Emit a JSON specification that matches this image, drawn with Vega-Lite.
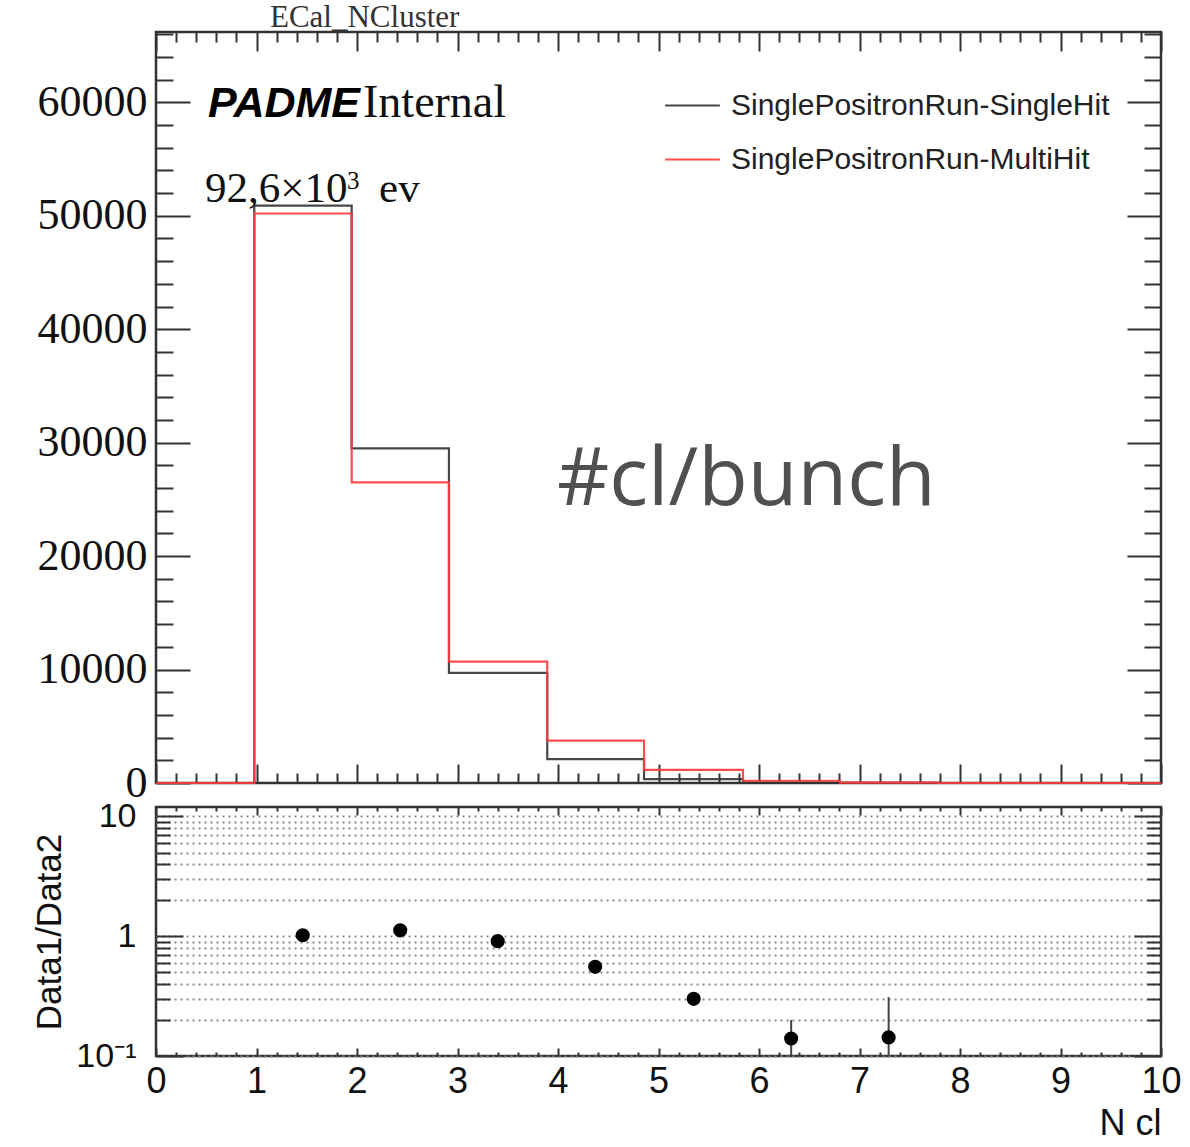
{
  "$schema": "https://vega.github.io/schema/vega-lite/v6.json",
  "padding": {"left": 31, "top": 0, "right": 5, "bottom": 0},
  "background": "white",
  "spacing": 24,
  "bounds": "flush",
  "datasets": {
    "hist": [
      {"series": "SinglePositronRun-SingleHit", "x": 0, "count": 0},
      {"series": "SinglePositronRun-SingleHit", "x": 0.978, "count": 50900},
      {"series": "SinglePositronRun-SingleHit", "x": 1.947, "count": 29500},
      {"series": "SinglePositronRun-SingleHit", "x": 2.915, "count": 9700},
      {"series": "SinglePositronRun-SingleHit", "x": 3.893, "count": 2100},
      {"series": "SinglePositronRun-SingleHit", "x": 4.856, "count": 350},
      {"series": "SinglePositronRun-SingleHit", "x": 5.841, "count": 28},
      {"series": "SinglePositronRun-SingleHit", "x": 6.806, "count": 5},
      {"series": "SinglePositronRun-SingleHit", "x": 7.78, "count": 0},
      {"series": "SinglePositronRun-SingleHit", "x": 10, "count": 0},
      {"series": "SinglePositronRun-MultiHit", "x": 0, "count": 0},
      {"series": "SinglePositronRun-MultiHit", "x": 0.978, "count": 50200},
      {"series": "SinglePositronRun-MultiHit", "x": 1.947, "count": 26500},
      {"series": "SinglePositronRun-MultiHit", "x": 2.915, "count": 10700},
      {"series": "SinglePositronRun-MultiHit", "x": 3.893, "count": 3740},
      {"series": "SinglePositronRun-MultiHit", "x": 4.856, "count": 1150},
      {"series": "SinglePositronRun-MultiHit", "x": 5.841, "count": 200},
      {"series": "SinglePositronRun-MultiHit", "x": 6.806, "count": 35},
      {"series": "SinglePositronRun-MultiHit", "x": 7.78, "count": 0},
      {"series": "SinglePositronRun-MultiHit", "x": 10, "count": 0}
    ],
    "ratio": [
      {"x": 1.46, "r": 1.02, "lo": 1.0, "hi": 1.04},
      {"x": 2.43, "r": 1.12, "lo": 1.1, "hi": 1.14},
      {"x": 3.4, "r": 0.91, "lo": 0.89, "hi": 0.93},
      {"x": 4.37, "r": 0.555, "lo": 0.53, "hi": 0.58},
      {"x": 5.35, "r": 0.3, "lo": 0.27, "hi": 0.33},
      {"x": 6.32, "r": 0.14, "lo": 0.1, "hi": 0.2},
      {"x": 7.29, "r": 0.143, "lo": 0.1, "hi": 0.31}
    ]
  },
  "config": {
    "view": {"stroke": "#333", "strokeWidth": 2.5},
    "axis": {
      "grid": false, "domain": false, "tickColor": "#333", "tickWidth": 2,
      "labelFlush": false, "labelOverlap": false, "labelBound": false,
      "labelColor": "#111", "titleColor": "#111", "titleFontWeight": "normal"
    }
  },
  "vconcat": [
    {
      "width": 1005,
      "height": 751,
      "layer": [
        {
          "data": {"name": "hist"},
          "mark": {"type": "line", "interpolate": "step-after", "strokeWidth": 2.2, "opacity": 0.9},
          "encoding": {
            "x": {"field": "x", "type": "quantitative", "scale": {"domain": [0, 10], "nice": false, "zero": false},
              "axis": {"orient": "bottom", "title": null, "labels": false, "minExtent": 0, "maxExtent": 0,
                "values": [0,0.2,0.4,0.6,0.8,1,1.2,1.4,1.6,1.8,2,2.2,2.4,2.6,2.8,3,3.2,3.4,3.6,3.8,4,4.2,4.4,4.6,4.8,5,5.2,5.4,5.6,5.8,6,6.2,6.4,6.6,6.8,7,7.2,7.4,7.6,7.8,8,8.2,8.4,8.6,8.8,9,9.2,9.4,9.6,9.8,10],
                "tickSize": {"condition": {"test": "abs(datum.value - round(datum.value)) < 0.001", "value": -19}, "value": -10}}},
            "y": {"field": "count", "type": "quantitative", "scale": {"domain": [0, 66200], "nice": false},
              "axis": {"orient": "left", "title": null, "format": "d",
                "values": [0,2000,4000,6000,8000,10000,12000,14000,16000,18000,20000,22000,24000,26000,28000,30000,32000,34000,36000,38000,40000,42000,44000,46000,48000,50000,52000,54000,56000,58000,60000,62000,64000,66000],
                "labelExpr": "datum.value % 10000 === 0 ? datum.label : ''",
                "labelFont": "Liberation Serif", "labelFontSize": 44, "labelPadding": 43,
                "tickSize": {"condition": {"test": "datum.value % 10000 === 0", "value": -34}, "value": -17}}},
            "color": {"field": "series", "type": "nominal",
              "scale": {"domain": ["SinglePositronRun-SingleHit", "SinglePositronRun-MultiHit"], "range": ["#333333", "#ff3a3a"]},
              "legend": {"orient": "none", "legendX": 508, "legendY": 45, "title": null, "padding": 0,
                "symbolType": "stroke", "symbolSize": 3000, "symbolStrokeWidth": 2,
                "labelFont": "Liberation Sans", "labelFontSize": 30, "labelColor": "#222", "labelOffset": 10, "labelLimit": 0, "rowPadding": 10}}
          }
        },
        {
          "data": {"values": [{}]},
          "mark": {"type": "text", "font": "Open Sans", "fontSize": 81, "color": "#505050", "align": "left", "baseline": "alphabetic", "text": "#cl/bunch"},
          "encoding": {
            "x": {"datum": 3.99, "type": "quantitative",
              "axis": {"orient": "top", "title": null, "labels": false, "minExtent": 0, "maxExtent": 0,
                "values": [0,0.2,0.4,0.6,0.8,1,1.2,1.4,1.6,1.8,2,2.2,2.4,2.6,2.8,3,3.2,3.4,3.6,3.8,4,4.2,4.4,4.6,4.8,5,5.2,5.4,5.6,5.8,6,6.2,6.4,6.6,6.8,7,7.2,7.4,7.6,7.8,8,8.2,8.4,8.6,8.8,9,9.2,9.4,9.6,9.8,10],
                "tickSize": {"condition": {"test": "abs(datum.value - round(datum.value)) < 0.001", "value": -19}, "value": -10}}},
            "y": {"datum": 24500, "type": "quantitative",
              "axis": {"orient": "right", "title": null, "labels": false, "minExtent": 0, "maxExtent": 0,
                "values": [0,2000,4000,6000,8000,10000,12000,14000,16000,18000,20000,22000,24000,26000,28000,30000,32000,34000,36000,38000,40000,42000,44000,46000,48000,50000,52000,54000,56000,58000,60000,62000,64000,66000],
                "tickSize": {"condition": {"test": "datum.value % 10000 === 0", "value": -34}, "value": -17}}}
          }
        },
        {
          "data": {"values": [{}]},
          "mark": {"type": "text", "font": "Liberation Serif", "fontSize": 31, "color": "#333", "align": "left", "baseline": "alphabetic", "text": "ECal_NCluster"},
          "encoding": {
            "x": {"datum": 1.134, "type": "quantitative", "axis": null},
            "y": {"datum": 66620, "type": "quantitative", "axis": null}
          }
        },
        {
          "data": {"values": [{}]},
          "mark": {"type": "text", "font": "Liberation Sans", "fontStyle": "italic", "fontWeight": "bold", "fontSize": 43, "color": "#000", "align": "left", "baseline": "alphabetic", "text": "PADME"},
          "encoding": {
            "x": {"datum": 0.517, "type": "quantitative", "axis": null},
            "y": {"datum": 58700, "type": "quantitative", "axis": null}
          }
        },
        {
          "data": {"values": [{}]},
          "mark": {"type": "text", "font": "Liberation Serif", "fontSize": 46, "color": "#111", "align": "left", "baseline": "alphabetic", "text": "Internal"},
          "encoding": {
            "x": {"datum": 2.06, "type": "quantitative", "axis": null},
            "y": {"datum": 58700, "type": "quantitative", "axis": null}
          }
        },
        {
          "data": {"values": [{}]},
          "mark": {"type": "text", "font": "Liberation Serif", "fontSize": 43, "color": "#111", "align": "left", "baseline": "alphabetic", "text": "92,6×10"},
          "encoding": {
            "x": {"datum": 0.488, "type": "quantitative", "axis": null},
            "y": {"datum": 51210, "type": "quantitative", "axis": null}
          }
        },
        {
          "data": {"values": [{}]},
          "mark": {"type": "text", "font": "Liberation Serif", "fontSize": 25, "color": "#111", "align": "left", "baseline": "alphabetic", "text": "3"},
          "encoding": {
            "x": {"datum": 1.9, "type": "quantitative", "axis": null},
            "y": {"datum": 52350, "type": "quantitative", "axis": null}
          }
        },
        {
          "data": {"values": [{}]},
          "mark": {"type": "text", "font": "Liberation Serif", "fontSize": 43, "color": "#111", "align": "left", "baseline": "alphabetic", "text": "ev"},
          "encoding": {
            "x": {"datum": 2.22, "type": "quantitative", "axis": null},
            "y": {"datum": 51210, "type": "quantitative", "axis": null}
          }
        }
      ],
      "resolve": {"axis": {"x": "independent", "y": "independent"}}
    },
    {
      "width": 1005,
      "height": 249,
      "data": {"name": "ratio"},
      "layer": [
        {
          "mark": {"type": "rule", "color": "#444", "strokeWidth": 2},
          "encoding": {
            "x": {"field": "x", "type": "quantitative", "scale": {"domain": [0, 10], "nice": false, "zero": false},
              "axis": {"orient": "bottom",
                "values": [0,0.2,0.4,0.6,0.8,1,1.2,1.4,1.6,1.8,2,2.2,2.4,2.6,2.8,3,3.2,3.4,3.6,3.8,4,4.2,4.4,4.6,4.8,5,5.2,5.4,5.6,5.8,6,6.2,6.4,6.6,6.8,7,7.2,7.4,7.6,7.8,8,8.2,8.4,8.6,8.8,9,9.2,9.4,9.6,9.8,10],
                "labelExpr": "abs(datum.value - round(datum.value)) < 0.001 ? format(round(datum.value), 'd') : ''",
                "labelFont": "Liberation Sans", "labelFontSize": 36, "labelPadding": 16,
                "tickSize": {"condition": {"test": "abs(datum.value - round(datum.value)) < 0.001", "value": -8}, "value": -4},
                "title": "N cl", "titleFont": "Liberation Sans", "titleFontSize": 36, "titleAnchor": "end", "titlePadding": 3}},
            "y": {"field": "lo", "type": "quantitative", "scale": {"type": "log", "domain": [0.1, 12], "nice": false},
              "axis": {"orient": "left",
                "values": [0.1,0.2,0.3,0.4,0.5,0.6,0.7,0.8,0.9,1,2,3,4,5,6,7,8,9,10],
                "labelExpr": "datum.value === 0.1 ? '10⁻¹' : datum.value === 1 ? '1' : datum.value === 10 ? '10' : ''",
                "labelFont": "Liberation Sans", "labelFontSize": 34, "labelPadding": 47,
                "tickSize": {"condition": {"test": "datum.value === 0.1 || datum.value === 1 || datum.value === 10", "value": -27}, "value": -14},
                "grid": true, "gridDash": [2, 4], "gridColor": "#888", "gridWidth": 2,
                "title": "Data1/Data2", "titleFont": "Liberation Sans", "titleFontSize": 35, "titlePadding": 8}},
            "y2": {"field": "hi"}
          }
        },
        {
          "mark": {"type": "point", "shape": "circle", "filled": true, "size": 200, "color": "#000", "opacity": 1},
          "encoding": {
            "x": {"field": "x", "type": "quantitative",
              "axis": {"orient": "top", "title": null, "labels": false, "minExtent": 0, "maxExtent": 0,
                "values": [0,0.2,0.4,0.6,0.8,1,1.2,1.4,1.6,1.8,2,2.2,2.4,2.6,2.8,3,3.2,3.4,3.6,3.8,4,4.2,4.4,4.6,4.8,5,5.2,5.4,5.6,5.8,6,6.2,6.4,6.6,6.8,7,7.2,7.4,7.6,7.8,8,8.2,8.4,8.6,8.8,9,9.2,9.4,9.6,9.8,10],
                "tickSize": {"condition": {"test": "abs(datum.value - round(datum.value)) < 0.001", "value": -8}, "value": -4}}},
            "y": {"field": "r", "type": "quantitative",
              "axis": {"orient": "right", "title": null, "labels": false, "minExtent": 0, "maxExtent": 0,
                "values": [0.1,0.2,0.3,0.4,0.5,0.6,0.7,0.8,0.9,1,2,3,4,5,6,7,8,9,10],
                "tickSize": {"condition": {"test": "datum.value === 0.1 || datum.value === 1 || datum.value === 10", "value": -27}, "value": -14}}}
          }
        }
      ],
      "resolve": {"axis": {"x": "independent", "y": "independent"}}
    }
  ]
}
